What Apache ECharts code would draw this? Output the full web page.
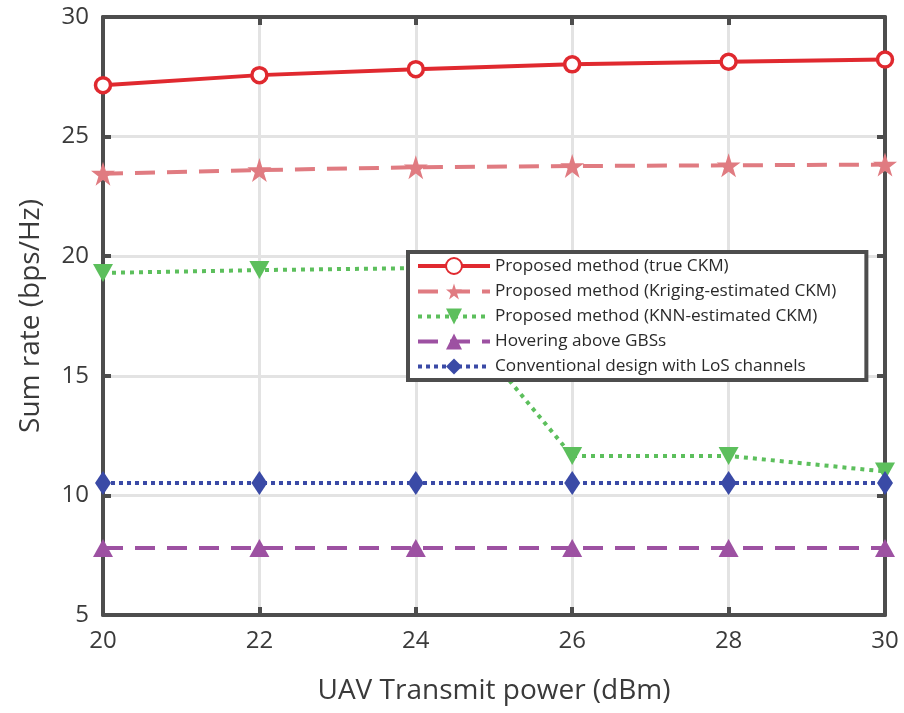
<!DOCTYPE html>
<html>
<head>
<meta charset="utf-8">
<script src="https://cdn.jsdelivr.net/npm/echarts@6/dist/echarts.min.js"></script>
<style>
  html, body { margin: 0; padding: 0; background: #fff; }
  #chart { width: 904px; height: 713px; }
</style>
</head>
<body>
<div id="chart"></div>
<script>
// Transmit power (dBm)
const power = [20, 22, 24, 26, 28, 30];

// Sum rate (bps/Hz) per scheme
const trueCkm     = [27.15, 27.57, 27.82, 28.02, 28.13, 28.22];
const krigingCkm  = [23.45, 23.6, 23.72, 23.77, 23.8, 23.83];
const knnCkm      = [19.3, 19.42, 19.5, 11.65, 11.65, 11.0];
const hovering    = [7.8, 7.8, 7.8, 7.8, 7.8, 7.8];
const conventional= [10.52, 10.52, 10.52, 10.52, 10.52, 10.52];

const seriesNames = [
  'Proposed method (true CKM)',
  'Proposed method (Kriging-estimated CKM)',
  'Proposed method (KNN-estimated CKM)',
  'Hovering above GBSs',
  'Conventional design with LoS channels'
];

const FONT = '"Open Sans", "Noto Sans", sans-serif';
const AXIS_COLOR = '#4d4d4d';
const TEXT_COLOR = '#3a3a3a';
const STAR = 'path://M50,0 L61.8,35.5 L100,35.5 L69.1,57.4 L80.9,93 L50,71 L19.1,93 L30.9,57.4 L0,35.5 L38.2,35.5 Z';

function pairs(ys) { return power.map((x, i) => [x, ys[i]]); }

const chart = echarts.init(document.getElementById('chart'), null, { renderer: 'canvas' });

const boxAxisCommon = {
  axisLine: { show: true, lineStyle: { color: AXIS_COLOR, width: 4 } },
  axisTick: { show: true, inside: true, length: 8, lineStyle: { color: AXIS_COLOR, width: 4 } },
  splitLine: { show: false },
  axisLabel: { show: false }
};

chart.setOption({
  animation: false,
  backgroundColor: '#fff',
  grid: { left: 103, right: 19, top: 17, bottom: 98, containLabel: false },
  xAxis: [{
    type: 'value', min: 20, max: 30, interval: 2,
    name: 'UAV Transmit power (dBm)', nameLocation: 'middle', nameGap: 62,
    nameTextStyle: { fontFamily: FONT, fontSize: 28, color: TEXT_COLOR },
    axisLine: { show: true, lineStyle: { color: AXIS_COLOR, width: 4 } },
    axisTick: { show: true, inside: true, length: 8, lineStyle: { color: AXIS_COLOR, width: 4 } },
    axisLabel: { fontFamily: FONT, fontSize: 24, color: TEXT_COLOR, margin: 14 },
    splitLine: { show: true, lineStyle: { color: '#e3e3e3', width: 3 } }
  }, Object.assign({ type: 'value', position: 'top', min: 20, max: 30, interval: 2 }, boxAxisCommon)],
  yAxis: [{
    type: 'value', min: 5, max: 30, interval: 5,
    name: 'Sum rate (bps/Hz)', nameLocation: 'middle', nameGap: 58,
    nameTextStyle: { fontFamily: FONT, fontSize: 28, color: TEXT_COLOR },
    axisLine: { show: true, lineStyle: { color: AXIS_COLOR, width: 4 } },
    axisTick: { show: true, inside: true, length: 8, lineStyle: { color: AXIS_COLOR, width: 4 } },
    axisLabel: { fontFamily: FONT, fontSize: 24, color: TEXT_COLOR, margin: 14 },
    splitLine: { show: true, lineStyle: { color: '#e3e3e3', width: 3 } }
  }, Object.assign({ type: 'value', position: 'right', min: 5, max: 30, interval: 5 }, boxAxisCommon)],
  legend: {
    orient: 'vertical',
    left: 408, top: 252,
    padding: [5, 30, 5, 8],
    itemWidth: 72, itemHeight: 20, itemGap: 8,
    backgroundColor: '#fff',
    borderColor: AXIS_COLOR, borderWidth: 4, borderRadius: 0,
    lineStyle: { width: 4 },
    textStyle: { fontFamily: FONT, fontSize: 17.2, color: '#2a2a2a' },
    data: seriesNames
  },
  series: [
    {
      name: seriesNames[0], type: 'line', data: pairs(trueCkm), z: 5,
      symbol: 'circle', symbolSize: 15,
      lineStyle: { color: '#e0292f', width: 4, type: 'solid' },
      itemStyle: { color: '#fff', borderColor: '#e0292f', borderWidth: 3.5 }
    },
    {
      name: seriesNames[1], type: 'line', data: pairs(krigingCkm), z: 4,
      symbol: STAR, symbolSize: 24,
      lineStyle: { color: '#e07b81', width: 4, type: [20, 12] },
      itemStyle: { color: '#e07b81' }
    },
    {
      name: seriesNames[2], type: 'line', data: pairs(knnCkm), z: 3,
      symbol: 'triangle', symbolRotate: 180, symbolSize: [20, 18],
      lineStyle: { color: '#5cbf5c', width: 4, type: [4, 5] },
      itemStyle: { color: '#5cbf5c' }
    },
    {
      name: seriesNames[3], type: 'line', data: pairs(hovering), z: 3,
      symbol: 'triangle', symbolSize: [20, 18],
      lineStyle: { color: '#9d51a2', width: 4, type: [20, 12] },
      itemStyle: { color: '#9d51a2' }
    },
    {
      name: seriesNames[4], type: 'line', data: pairs(conventional), z: 3,
      symbol: 'diamond', symbolSize: [16, 24],
      lineStyle: { color: '#3a4aa6', width: 4, type: [4, 4] },
      itemStyle: { color: '#3a4aa6' }
    }
  ]
});
</script>
</body>
</html>
